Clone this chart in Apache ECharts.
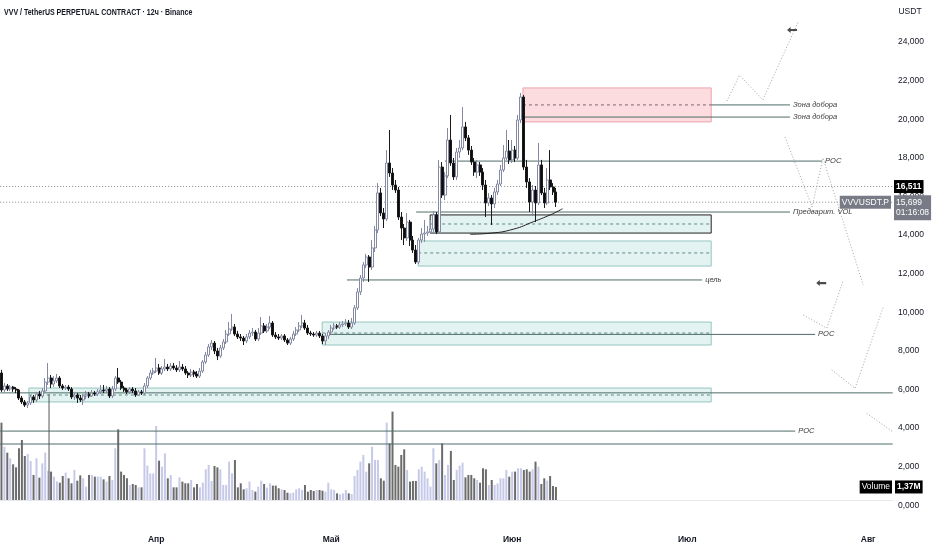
<!DOCTYPE html>
<html><head><meta charset="utf-8">
<script src="https://cdn.jsdelivr.net/npm/echarts@6/dist/echarts.min.js"></script>
<style>html,body{margin:0;padding:0;background:#fff}#c{width:932px;height:550px}</style>
</head><body><div id="c"></div>
<script>
// ---------- DATA ----------
const opens=[6.85,5.97,6.18,6.02,6.12,6.02,5.97,5.55,5.35,5.19,
5.30,5.61,5.45,5.76,5.66,5.92,6.38,6.59,6.28,6.44,
6.59,6.18,6.07,6.12,6.02,5.61,5.71,5.55,5.45,5.66,
5.76,5.66,5.81,5.76,5.87,5.97,5.92,6.02,5.66,6.02,
6.59,6.38,6.07,5.97,5.87,6.02,5.92,5.71,5.87,5.81,
6.18,6.59,6.85,6.95,7.11,6.85,7.06,7.16,7.06,7.21,
7.11,7.01,7.16,7.06,6.85,6.75,6.90,6.80,6.69,6.95,
7.42,7.78,8.20,8.40,7.99,7.73,8.15,8.46,8.87,9.13,
9.23,8.87,8.72,8.66,8.51,8.72,8.92,8.97,8.61,8.92,
9.29,9.03,9.23,9.44,8.82,8.72,8.66,8.77,8.56,8.40,
8.61,8.87,9.08,9.29,9.44,9.18,8.92,8.87,8.82,8.92,
8.77,8.51,8.77,8.97,9.18,9.29,9.23,9.34,9.39,9.44,
9.23,9.44,10.22,11.05,11.77,12.45,12.86,12.34,13.33,14.26,
16.18,15.14,14.83,17.73,17.21,16.59,16.33,14.93,14.36,13.85,
14.67,13.74,13.22,12.60,13.74,14.05,14.10,14.16,14.31,15.04,
14.16,17.52,16.07,17.06,18.92,17.73,17.01,18.30,18.51,19.60,
19.03,18.40,17.78,17.26,17.63,17.26,16.59,15.66,15.92,15.61,
16.23,16.64,17.37,17.99,18.35,17.89,18.40,17.99,19.96,21.15,
17.52,16.75,15.71,16.33,15.66,17.63,16.18,15.66,16.85,16.49,
16.23];
const closes=[5.97,6.18,6.02,6.12,6.02,5.97,5.55,5.35,5.19,5.30,
5.61,5.45,5.76,5.66,5.92,6.38,6.59,6.28,6.44,6.59,
6.18,6.07,6.12,6.02,5.61,5.71,5.55,5.45,5.66,5.76,
5.66,5.81,5.76,5.87,5.97,5.92,6.02,5.66,6.02,6.59,
6.38,6.07,5.97,5.87,6.02,5.92,5.71,5.87,5.81,6.18,
6.59,6.85,6.95,7.11,6.85,7.06,7.16,7.06,7.21,7.11,
7.01,7.16,7.06,6.85,6.75,6.90,6.80,6.69,6.95,7.42,
7.78,8.20,8.40,7.99,7.73,8.15,8.46,8.87,9.13,9.23,
8.87,8.72,8.66,8.51,8.72,8.92,8.97,8.61,8.92,9.29,
9.03,9.23,9.44,8.82,8.72,8.66,8.77,8.56,8.40,8.61,
8.87,9.08,9.29,9.44,9.18,8.92,8.87,8.82,8.92,8.77,
8.51,8.77,8.97,9.18,9.29,9.23,9.34,9.39,9.44,9.23,
9.44,10.22,11.05,11.77,12.45,12.86,12.34,13.33,14.26,16.18,
15.14,14.83,17.73,17.21,16.59,16.33,14.93,14.36,13.85,14.67,
13.74,13.22,12.60,13.74,14.05,14.10,14.16,14.31,15.04,14.16,
17.52,16.07,17.06,18.92,17.73,17.01,18.30,18.51,19.60,19.03,
18.40,17.78,17.26,17.63,17.26,16.59,15.66,15.92,15.61,16.23,
16.64,17.37,17.99,18.35,17.89,18.40,17.99,19.96,21.15,17.52,
16.75,15.71,16.33,15.66,17.63,16.18,15.66,16.85,16.49,16.23,
15.699];
const lows=[5.87,5.87,5.92,5.92,5.87,5.81,5.45,5.24,5.09,5.04,
5.19,5.30,5.35,5.50,5.55,5.81,6.23,6.07,6.12,6.33,
6.07,5.97,5.97,5.92,5.50,5.45,5.30,5.35,5.19,5.50,
5.55,5.61,5.66,5.66,5.76,5.81,5.81,5.55,5.55,5.92,
6.28,5.97,5.87,5.76,5.76,5.81,5.61,5.66,5.71,5.71,
6.07,6.49,6.75,6.85,6.75,6.75,6.95,6.95,6.95,7.01,
6.90,6.90,6.95,6.75,6.59,6.64,6.64,6.59,6.59,6.85,
7.32,7.68,8.04,7.83,7.52,7.63,8.04,8.35,8.77,9.03,
8.77,8.61,8.51,8.30,8.40,8.61,8.77,8.51,8.51,8.82,
8.92,8.92,9.13,8.72,8.61,8.56,8.56,8.46,8.30,8.30,
8.51,8.77,8.97,9.18,9.08,8.82,8.77,8.72,8.72,8.66,
8.35,8.30,8.61,8.87,9.08,9.13,9.13,9.23,9.29,9.13,
9.13,9.34,10.11,10.89,11.57,12.29,11.57,12.19,13.12,14.10,
14.98,14.36,14.73,17.01,16.33,16.18,14.78,13.74,13.48,13.69,
13.43,13.07,12.50,12.50,13.59,13.64,13.95,14.05,14.16,14.05,
14.05,15.92,15.81,16.95,17.58,16.85,16.85,17.99,18.40,18.87,
18.15,17.63,17.06,16.95,17.06,16.33,14.93,15.50,14.52,15.40,
16.07,16.54,17.26,17.89,17.68,17.73,17.78,17.89,19.80,17.37,
16.44,15.19,14.98,14.67,15.55,16.07,15.40,15.55,16.33,16.07,
15.45];
const highs=[7.01,6.33,6.28,6.23,6.18,6.12,6.02,5.66,5.45,5.40,
5.71,5.71,5.87,5.92,6.07,6.59,7.37,6.75,6.69,6.80,
6.69,6.28,6.23,6.23,6.12,5.81,5.81,5.71,5.76,5.92,
5.87,5.97,5.92,6.02,6.23,6.23,6.18,6.12,6.18,6.69,
7.11,6.49,6.18,6.07,6.12,6.12,6.07,5.97,5.97,6.33,
6.69,7.01,7.11,7.63,7.32,7.21,7.58,7.32,7.37,7.37,
7.26,7.47,7.32,7.21,6.95,7.06,7.01,6.95,7.11,7.52,
7.94,8.35,8.56,8.51,8.15,8.30,8.61,9.08,9.49,9.91,
9.39,9.03,8.87,8.77,8.87,9.08,9.18,9.08,9.18,9.75,
9.44,9.39,9.80,9.54,8.97,8.87,8.87,8.87,8.66,8.72,
9.03,9.23,9.49,9.86,9.60,9.34,9.03,8.97,9.03,9.03,
8.87,8.92,9.08,9.34,9.44,9.39,9.49,9.54,9.65,9.60,
9.70,10.37,11.25,11.93,12.60,13.02,12.96,13.74,14.47,16.69,
16.44,15.40,18.40,19.44,17.47,16.85,16.49,15.19,14.57,15.14,
14.78,13.95,13.48,13.85,14.36,14.78,14.47,14.78,15.24,15.19,
17.89,17.78,17.26,19.54,20.22,17.99,18.51,18.92,20.63,19.86,
19.18,18.61,17.99,17.89,17.78,17.47,16.85,16.18,16.07,16.44,
16.85,17.63,18.66,19.44,18.92,18.92,18.61,20.22,21.36,21.25,
17.89,16.95,16.59,16.54,18.77,17.89,16.44,17.47,18.40,16.69,
16.44];
// volume, millions
const volumes=[8.12,5.6,4.97,4.38,3.75,3.43,5.43,6.3,4.62,4.83,
4.10,2.63,4.38,2.35,3.85,4.97,3.08,2.98,2.45,1.96,
1.82,2.52,2.87,2.28,1.75,3.15,2.03,2.59,2.28,1.40,
2.63,2.63,2.45,2.45,2.45,2.17,1.93,2.52,2.10,5.43,
7.42,2.98,2.63,2.28,1.58,1.68,1.58,1.33,1.33,5.43,
3.61,2.80,2.80,7.77,4.13,3.50,4.90,2.28,2.63,1.33,
1.33,2.38,1.93,1.75,1.75,2.10,1.33,1.68,1.33,1.82,
3.22,3.68,2.00,3.57,3.43,3.22,1.58,1.58,4.03,2.80,
4.20,1.33,1.75,1.12,1.23,1.93,1.05,0.88,1.40,2.03,
1.68,1.30,1.75,1.51,1.51,1.23,1.12,1.05,0.77,0.70,
0.77,1.12,1.23,1.05,1.58,0.88,1.05,0.95,1.05,1.05,
0.98,0.88,1.82,1.12,1.05,0.70,0.60,0.70,1.05,0.70,
0.63,2.52,3.15,4.03,4.73,2.98,3.85,5.60,4.20,4.20,
2.28,2.03,8.12,5.95,9.28,3.68,3.50,4.73,5.32,3.15,
1.93,2.00,2.00,3.22,3.50,2.98,2.28,1.40,5.43,3.85,
4.20,5.95,2.63,3.68,5.15,2.10,3.15,3.61,3.92,2.38,
2.63,2.63,2.28,2.10,1.82,3.33,3.22,1.58,2.10,1.58,
1.75,2.28,2.28,3.15,2.45,2.98,2.98,3.33,3.33,3.15,
3.22,2.98,3.22,4.03,3.50,1.68,2.28,2.03,2.52,1.47,
1.37];
const monthNames=['Янв','Фев','Мар','Апр','Май','Июн','Июл','Авг','Сен','Окт','Ноя','Дек'];
const firstCandleTime=Date.UTC(2025,2,5,12); // 12h candles
const slotCount=306;
const lastPrice=15.699, prevLevel=16.511, lastVolumeLabel='1,37M', countdown='01:16:08';
// drawing levels: [fromIndex, toIndex, price, label]
const solidLevels=[
 [243.2,270.2,20.74,'Зона добора'],
 [179.4,270.2,20.11,'Зона добора'],
 [152.0,281.2,17.83,'POC'],
 [142.1,270.2,15.19,'Предварит. VOL'],
 [118.4,240.1,11.67,'цель'],
 [112.6,278.8,8.85,'POC'],
 [-0.45,305.4,5.82,''],
 [-0.45,272.0,3.84,'POC'],
 [-0.45,305.4,3.17,'']
];
// zones: [fromIndex, toIndex, top, bottom, mid, kind]
const zones=[
 [178.7,243.2,21.62,19.86,20.74,'pink'],
 [146.9,243.2,15.04,14.10,14.57,'dark'],
 [142.8,243.2,13.69,12.39,13.07,'green'],
 [109.9,243.2,9.49,8.30,8.92,'green'],
 [9.4,243.2,6.07,5.35,5.71,'green']
];
const curvePts=[[160.6,14.04],[167.4,14.09],[175.4,14.30],[182.3,14.69],[188.0,15.04],[192.3,15.36]];
const projPaths=[
 [[248.6,20.94],[252.9,22.29],[260.9,21.0],[273.0,25.04]],
 [[268.5,19.08],[277.8,15.45],[281.5,17.99],[295.3,11.41]],
 [[274.8,9.85],[282.8,9.17],[288.5,11.67]],
 [[284.5,7.01],[292.5,6.06],[302.2,10.28]],
 [[296.5,4.76],[305.4,3.81]]
];
const arrowPts=[[270.9,24.62],[280.9,11.51]];
const vLine=[[16.3,5.75],[16.3,0.27]];

// ---------- BUILD ----------
const FONT="'Liberation Sans',Arial,sans-serif";
const categories=[];
for(let i=0;i<slotCount;i++) categories.push(String(firstCandleTime+i*43200000));
const candleData=opens.map((o,i)=>[o,closes[i],lows[i],highs[i]]);
const volData=volumes.map((v,i)=>({value:v,itemStyle:{color:closes[i]>=opens[i]?'#c6c9e8':'#6c6c6c'}}));
const fmt=v=>v.toFixed(3).replace('.',',');

const series=[];
series.push({type:'candlestick',xAxisIndex:0,yAxisIndex:0,data:candleData,barWidth:2.5,
 itemStyle:{color:'#ffffff',color0:'#0b0b0b',borderColor:'#858aa2',borderColor0:'#1a1a1a',borderWidth:1},z:5,silent:true});
series.push({type:'bar',xAxisIndex:2,yAxisIndex:1,data:volData,barWidth:2,silent:true,z:1});

const areaData=zones.map(z=>{
 const st = z[5]==='pink'?{color:'rgba(242,80,95,0.2)',borderColor:'#eda3aa',borderWidth:1}
   : z[5]==='dark'?{color:'rgba(38,166,154,0.13)',borderColor:'#222',borderWidth:1}
   :{color:'rgba(38,166,154,0.13)',borderColor:'#94c6bf',borderWidth:1};
 return [{coord:[z[0],z[2]],itemStyle:st},{coord:[z[1],z[3]]}];
});
series.push({type:'line',xAxisIndex:1,yAxisIndex:0,data:curvePts,smooth:true,symbol:'none',silent:true,
 lineStyle:{color:'#222',width:1},z:4,
 markArea:{silent:true,data:areaData,z:1}});
zones.forEach(z=>{
 series.push({type:'line',xAxisIndex:1,yAxisIndex:0,data:[[z[0],z[4]],[z[1],z[4]]],symbol:'none',silent:true,
  lineStyle:{color:z[5]==='pink'?'#7a6a6c':'#5d8984',width:1,type:[3,3]},z:3});
});
solidLevels.forEach(l=>{
 series.push({type:'line',xAxisIndex:1,yAxisIndex:0,data:[[l[0],l[2]],[l[1],l[2]]],symbol:'none',silent:true,
  lineStyle:{color:'#4f6d69',width:1},z:3,
  endLabel:{show:!!l[3],formatter:l[3],color:'#3a3a3a',fontSize:7.5,fontStyle:'italic',fontFamily:FONT,distance:3}});
});
[prevLevel,lastPrice].forEach(p=>{
 series.push({type:'line',xAxisIndex:1,yAxisIndex:0,data:[[-0.45,p],[305.4,p]],symbol:'none',silent:true,
  lineStyle:{color:'#8a8a8a',width:1,type:[1,2]},z:2});
});
projPaths.forEach(p=>{
 series.push({type:'line',xAxisIndex:1,yAxisIndex:0,data:p,symbol:'none',silent:true,clip:false,
  lineStyle:{color:'#a3a3a3',width:1,type:[1,2]},z:2});
});
series.push({type:'line',xAxisIndex:1,yAxisIndex:0,data:vLine,symbol:'none',silent:true,
 lineStyle:{color:'#555',width:1},z:3});
series.push({type:'scatter',xAxisIndex:1,yAxisIndex:0,data:arrowPts,silent:true,
 symbol:'path://M0,5 L5,0 L5,3.2 L14,3.2 L14,6.8 L5,6.8 L5,10 Z',symbolSize:[10,6],
 itemStyle:{color:'#1e1e1e'},z:6});

const option={
 animation:false,
 backgroundColor:'#ffffff',
 textStyle:{fontFamily:FONT},
 grid:[{left:0,right:39,top:0,bottom:44.8},{left:0,right:39,top:400,bottom:50}],
 xAxis:[
  {type:'category',gridIndex:0,data:categories,boundaryGap:true,
   axisLine:{show:false},axisTick:{show:false},splitLine:{show:false},
   axisLabel:{margin:30,color:'#131722',fontSize:8.5,fontWeight:'bold',fontFamily:FONT,
    interval:(idx,val)=>{const d=new Date(+val);return d.getUTCDate()===1&&d.getUTCHours()===0;},
    formatter:(val)=>monthNames[new Date(+val).getUTCMonth()]}},
  {type:'value',gridIndex:0,min:-0.5,max:slotCount-0.5,show:false},
  {type:'category',gridIndex:1,data:categories,boundaryGap:true,
   axisLine:{show:true,lineStyle:{color:'#e6e8ee'}},axisTick:{show:false},axisLabel:{show:false},splitLine:{show:false}}
 ],
 yAxis:[
  {type:'value',gridIndex:0,position:'right',min:0,max:26.176,interval:2,
   axisLine:{show:false},axisTick:{show:false},splitLine:{show:false},
   axisLabel:{margin:5,color:'#131722',fontSize:8.5,fontFamily:FONT,showMaxLabel:false,
    formatter:v=>v>24.5?'':fmt(v)}},
  {type:'value',gridIndex:1,min:0,max:10.5,show:false}
 ],
 series
};
const chart=echarts.init(document.getElementById('c'));
chart.setOption(option);

const yPrev=chart.convertToPixel({yAxisIndex:0},prevLevel);
const yLast=chart.convertToPixel({yAxisIndex:0},lastPrice);
const yVol=chart.convertToPixel({yAxisIndex:1},volumes[volumes.length-1]);
const tag=(text,x,y,bg,align,extra)=>Object.assign({type:'text',x:x,y:y,z:100,silent:true,
 style:Object.assign({text,fill:'#fff',backgroundColor:bg,padding:[2,2],align:align||'left',verticalAlign:'middle',
 font:'bold 8.5px '+FONT},extra||{})});
chart.setOption({graphic:[
 {type:'text',x:4,y:12,scaleX:0.74,silent:true,style:{text:'VVV / TetherUS PERPETUAL CONTRACT · 12ч · Binance',fill:'#131722',font:'bold 9.5px '+FONT,verticalAlign:'middle'}},
 {type:'text',x:910,y:12,silent:true,style:{text:'USDT',fill:'#131722',font:'8.5px '+FONT,align:'center',verticalAlign:'middle'}},
 tag(fmt(prevLevel),894,yPrev,'#000000'),
 tag('VVVUSDT.P',891,yLast,'#787b86','right',{font:'8.5px '+FONT}),
 {type:'text',x:894,y:yLast-7,z:100,silent:true,style:{text:fmt(lastPrice)+'\n'+countdown,fill:'#fff',backgroundColor:'#787b86',padding:[2,2],lineHeight:10.5,verticalAlign:'top',font:'8.5px '+FONT}},
 tag('Volume',892,yVol,'#000000','right',{font:'8.5px '+FONT}),
 tag(lastVolumeLabel,895,yVol,'#000000')
]});
</script></body></html>
